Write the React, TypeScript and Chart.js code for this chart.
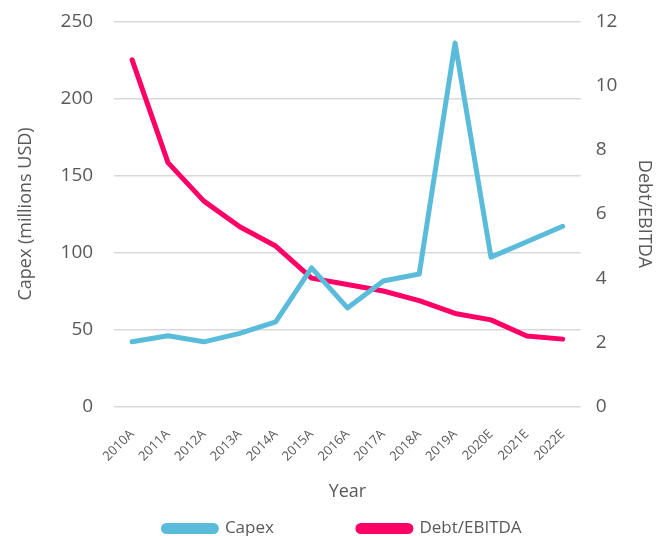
import React, { useEffect, useRef } from "react";
import { Chart, registerables } from "chart.js";

Chart.register(...registerables);

const categories = ["2010A", "2011A", "2012A", "2013A", "2014A", "2015A", "2016A", "2017A", "2018A", "2019A", "2020E", "2021E", "2022E"];
const capex = [42, 46, 42, 47.5, 55, 90, 64, 81.5, 86, 236, 97, 107, 117];
const debtEbitda = [10.8, 7.6, 6.4, 5.6, 5.0, 4.0, 3.8, 3.6, 3.3, 2.9, 2.7, 2.2, 2.1];

const FONT = "'Open Sans', 'DejaVu Sans', sans-serif";
const TEXT = "#595959";
const LEGEND_GAP = 84;
const LEGEND_H = 16;
const LEGEND_SHIFT_X = 8;

const legendTweak = {
  id: "legendTweak",
  beforeLayout(chart: any) {
    const lg: any = chart.legend;
    if (lg && !lg.__patched) {
      lg.__patched = true;
      const origFit = lg.fit.bind(lg);
      lg.fit = function () {
        origFit();
        this.height = LEGEND_H;
      };
      const origDraw = lg.draw.bind(lg);
      lg.draw = function (area: any) {
        const t = this.top;
        const l = this.left;
        const r = this.right;
        this.top = t - LEGEND_GAP;
        this.left = l + LEGEND_SHIFT_X;
        this.right = r + LEGEND_SHIFT_X;
        origDraw(area);
        this.top = t;
        this.left = l;
        this.right = r;
      };
    }
  },
};

export default function App() {
  const ref = useRef<HTMLCanvasElement | null>(null);
  useEffect(() => {
    document.body.style.margin = "0";
    const ctx = ref.current!;
    const chart = new Chart(ctx, {
      type: "line",
      data: {
        labels: categories,
        datasets: [
          {
            label: "Capex",
            data: capex,
            borderColor: "#5abcda",
            backgroundColor: "#5abcda",
            borderWidth: 5,
            borderJoinStyle: "round",
            borderCapStyle: "round",
            pointRadius: 0,
            tension: 0,
            yAxisID: "y",
          },
          {
            label: "Debt/EBITDA",
            data: debtEbitda,
            borderColor: "#ff0066",
            backgroundColor: "#ff0066",
            borderWidth: 5,
            borderJoinStyle: "round",
            borderCapStyle: "round",
            pointRadius: 0,
            tension: 0,
            yAxisID: "y1",
          },
        ],
      },
      plugins: [legendTweak],
      options: {
        animation: false,
        responsive: false,
        maintainAspectRatio: false,
        layout: { padding: { left: 11, right: 11, top: 5, bottom: 0 } },
        plugins: {
          legend: {
            position: "bottom",
            labels: {
              boxWidth: 53,
              boxHeight: 6,
              useBorderRadius: true,
              borderRadius: 3,
              padding: LEGEND_GAP,
              color: TEXT,
              font: { family: FONT, size: 17 },
            },
          },
          tooltip: { enabled: false },
        },
        scales: {
          x: {
            offset: true,
            grid: { display: false },
            border: { display: false },
            ticks: {
              color: TEXT,
              padding: 12,
              font: { family: FONT, size: 13 },
              maxRotation: 45,
              minRotation: 45,
            },
            title: {
              display: true,
              text: "Year",
              color: TEXT,
              padding: { top: 5, bottom: 17 },
              font: { family: FONT, size: 18 },
            },
          },
          y: {
            position: "left",
            min: 0,
            max: 250,
            grid: {
              color: "#d9d9d9",
              lineWidth: 1.5,
              drawTicks: true,
              tickLength: 11,
              tickColor: "rgba(0,0,0,0)",
            },
            border: { display: false },
            ticks: {
              stepSize: 50,
              color: TEXT,
              padding: 10,
              font: { family: FONT, size: 19 },
            },
            title: {
              display: true,
              text: "Capex (millions USD)",
              color: TEXT,
              padding: { top: 4, bottom: 14 },
              font: { family: FONT, size: 18 },
            },
          },
          y1: {
            position: "right",
            min: 0,
            max: 12,
            grid: {
              drawOnChartArea: false,
              color: "rgba(0,0,0,0)",
              drawTicks: true,
              tickLength: 5,
              tickColor: "rgba(0,0,0,0)",
            },
            border: { display: false },
            ticks: {
              stepSize: 2,
              color: TEXT,
              padding: 10,
              font: { family: FONT, size: 19 },
            },
            title: {
              display: true,
              text: "Debt/EBITDA",
              color: TEXT,
              padding: { top: 3, bottom: 6 },
              font: { family: FONT, size: 18 },
            },
          },
        },
      },
    });
    return () => chart.destroy();
  }, []);
  return (
    <div style={{ width: 669, height: 536 }}>
      <canvas ref={ref} width={669} height={536} style={{ width: 669, height: 536 }} />
    </div>
  );
}
